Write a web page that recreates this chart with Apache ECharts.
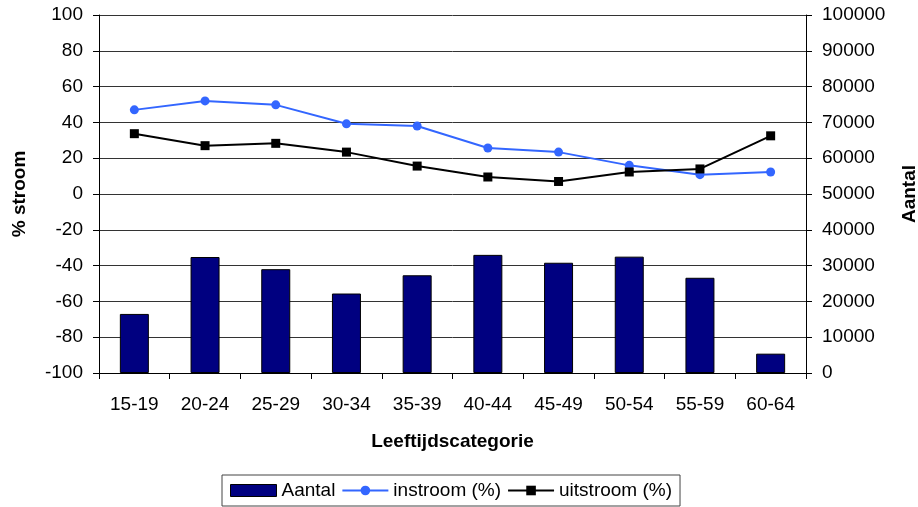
<!DOCTYPE html>
<html>
<head>
<meta charset="utf-8">
<script src="https://cdn.jsdelivr.net/npm/echarts@6/dist/echarts.min.js"></script>
<style>
html,body{margin:0;padding:0;background:#fff;}
#chart{width:918px;height:507px;}
</style>
</head>
<body>
<div id="chart"></div>
<script>
var categories = ['15-19','20-24','25-29','30-34','35-39','40-44','45-49','50-54','55-59','60-64'];
var aantal = [16500, 32400, 29000, 22200, 27300, 33000, 30800, 32500, 26600, 5400];
var instroom = [47.0, 52.0, 49.8, 39.2, 38.0, 25.7, 23.4, 16.0, 10.8, 12.3];
var uitstroom = [33.7, 27.0, 28.3, 23.4, 15.6, 9.5, 7.0, 12.3, 14.0, 32.5];

var FONT = '"Liberation Sans", Arial, sans-serif';
var FS = 19;
var chart = echarts.init(document.getElementById('chart'), null, {renderer:'canvas'});
chart.setOption({
  animation: false,
  backgroundColor: '#fff',
  textStyle: {fontFamily: FONT, color: '#000'},
  grid: {left: 99, right: 112, top: 15, bottom: 134, containLabel: false, outerBoundsMode: 'none'},
  legend: {
    left: 222, top: 475,
    padding: [6, 8, 6, 8],
    borderColor: '#444', borderWidth: 1,
    itemWidth: 46, itemHeight: 12, itemGap: 6,
    textStyle: {fontFamily: FONT, fontSize: FS, color: '#000'},
    data: [
      {name: 'Aantal', icon: 'rect', itemStyle: {borderColor: '#000', borderWidth: 1}},
      'instroom (%)', 'uitstroom (%)'
    ]
  },
  xAxis: {
    type: 'category', data: categories,
    name: 'Leeftijdscategorie', nameLocation: 'middle', nameGap: 59,
    nameTextStyle: {fontFamily: FONT, fontSize: FS, fontWeight: 'bold', color: '#000'},
    axisLine: {onZero: false, lineStyle: {color: '#000'}},
    axisTick: {show: true, alignWithLabel: false, length: 6, lineStyle: {color: '#000'}},
    axisLabel: {fontFamily: FONT, fontSize: FS, color: '#000', margin: 22},
    splitLine: {show: false}
  },
  yAxis: [
    {
      type: 'value', min: -100, max: 100, interval: 20,
      name: '% stroom', nameLocation: 'middle', nameRotate: 90, nameGap: 70,
      nameTextStyle: {fontFamily: FONT, fontSize: FS, fontWeight: 'bold', color: '#000'},
      axisLine: {show: true, lineStyle: {color: '#000'}},
      axisTick: {show: true, length: 6, lineStyle: {color: '#000'}},
      axisLabel: {fontFamily: FONT, fontSize: FS, color: '#000', margin: 16},
      splitLine: {show: true, lineStyle: {color: '#333', width: 1}}
    },
    {
      type: 'value', min: 0, max: 100000, interval: 10000,
      name: 'Aantal', nameLocation: 'middle', nameRotate: 90, nameGap: 94,
      nameTextStyle: {fontFamily: FONT, fontSize: FS, fontWeight: 'bold', color: '#000'},
      axisLine: {show: true, lineStyle: {color: '#000'}},
      axisTick: {show: true, length: 6, lineStyle: {color: '#000'}},
      axisLabel: {fontFamily: FONT, fontSize: FS, color: '#000', margin: 16,
        formatter: function (v) { return String(v); }},
      splitLine: {show: false}
    }
  ],
  series: [
    {
      name: 'Aantal', type: 'bar', yAxisIndex: 1, data: aantal,
      barWidth: 29,
      itemStyle: {color: '#000080', borderColor: '#000', borderWidth: 1}
    },
    {
      name: 'instroom (%)', type: 'line', yAxisIndex: 0, data: instroom,
      symbol: 'circle', symbolSize: 9,
      lineStyle: {color: '#3366FF', width: 2},
      itemStyle: {color: '#3366FF'}
    },
    {
      name: 'uitstroom (%)', type: 'line', yAxisIndex: 0, data: uitstroom,
      symbol: 'rect', symbolSize: 9,
      lineStyle: {color: '#000', width: 2},
      itemStyle: {color: '#000'}
    }
  ]
});
</script>
</body>
</html>
